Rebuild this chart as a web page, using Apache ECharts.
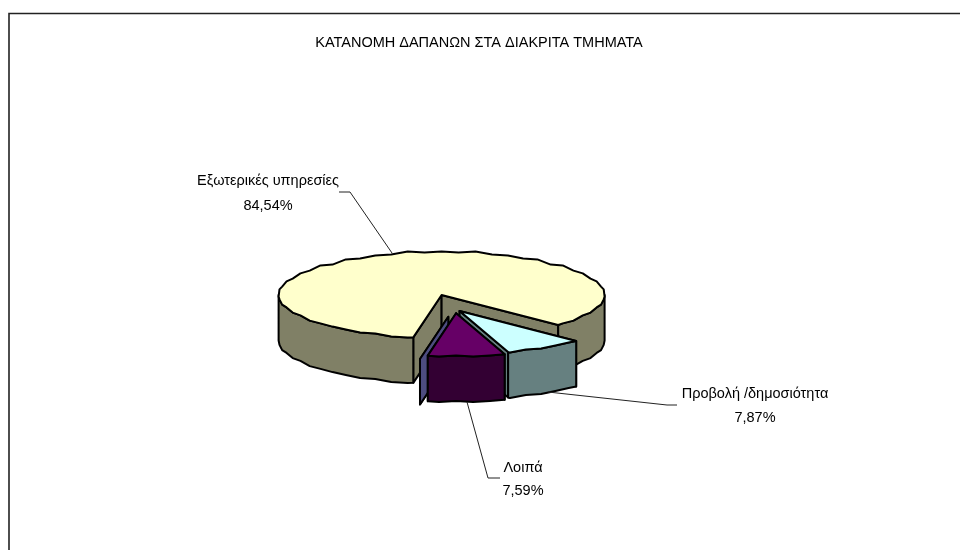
<!DOCTYPE html>
<html lang="el">
<head>
    <meta charset="utf-8"/>
    <title>ECharts</title>
    <script src="https://cdn.jsdelivr.net/npm/echarts@6/dist/echarts.min.js"></script>
    <style>
        html, body { margin: 0; padding: 0; background: #fff; }
        #main { width: 960px; height: 550px; }
    </style>
</head>
<body>
<div id="main"></div>
<script type="text/javascript">
    // data (the last slice is empty, only its cut wall shows)
    var chartTitle = 'ΚΑΤΑΝΟΜΗ ΔΑΠΑΝΩΝ ΣΤΑ ΔΙΑΚΡΙΤΑ ΤΜΗΜΑΤΑ';
    var categories = ['Εξωτερικές υπηρεσίες', 'Προβολή /δημοσιότητα', 'Λοιπά', ''];
    var shares = [84.54, 7.87, 7.59, 0];

    // look of the fake 3D pie
    var topColors = ['#ffffcc', '#ccffff', '#660066', '#9999ff'];
    var wallColors = ['#808066', '#668080', '#330033', '#4d4d80'];
    var pie = {cx: 441.6, cy: 295, rx: 163, ry: 43, depth: 45.5, startAngle: 100};
    var explode = [[0, 0], [18, 16], [14.5, 18.3], [6.7, 21.7]];
    var drawOrder = [0, 1, 3, 2];
    var labelFont = '14.5px "Liberation Sans", Arial, sans-serif';
    var labelLayout = [
        {x: 268, y: 181, gap: 25, leader: [[339, 192], [350, 192], [392, 253]]},
        {x: 755, y: 394, gap: 24, leader: [[677, 405], [667, 405], [548, 392]]},
        {x: 523, y: 468, gap: 23, leader: [[500, 478], [488, 478], [467, 402]]}
    ];

    // cumulative slice angles, clockwise on screen
    var spans = [];
    var angle = pie.startAngle;
    for (var i = 0; i < shares.length; i++) {
        spans[i] = [angle, angle + shares[i] * 3.6];
        angle = spans[i][1];
    }

    function rimPoint(deg, dx, dy) {
        var rad = deg * Math.PI / 180;
        return [pie.cx + dx + pie.rx * Math.cos(rad), pie.cy + dy + pie.ry * Math.sin(rad)];
    }

    // the rim of the original is coarse, so sample it in rough steps
    function rim(from, to, dx, dy) {
        var pts = [];
        var step = 6;
        var first = Math.ceil(from / step) * step;
        pts.push(rimPoint(from, dx, dy));
        for (var a = first; a < to; a += step) {
            if (a > from) {
                var p = rimPoint(a, dx, dy);
                p[1] = Math.round(p[1] / 2) * 2 + (a % 12 === 0 ? 0.6 : -0.6);
                pts.push(p);
            }
        }
        pts.push(rimPoint(to, dx, dy));
        return pts;
    }

    function face(points, fill) {
        return {
            type: 'polygon',
            shape: {points: points},
            style: {fill: fill, stroke: '#000', lineWidth: 2, lineJoin: 'round'}
        };
    }

    function cutWall(deg, dx, dy, fill) {
        var apex = [pie.cx + dx, pie.cy + dy];
        var edge = rimPoint(deg, dx, dy);
        return face([apex, edge, [edge[0], edge[1] + pie.depth], [apex[0], apex[1] + pie.depth]], fill);
    }

    function outerWall(from, to, dx, dy, fill) {
        var upper = rim(from, to, dx, dy);
        var lower = upper.map(function (p) { return [p[0], p[1] + pie.depth]; }).reverse();
        return face(upper.concat(lower), fill);
    }

    function renderSlice(params, api) {
        var idx = api.value(1);
        var from = spans[idx][0];
        var to = spans[idx][1];
        var dx = explode[idx][0];
        var dy = explode[idx][1];
        var wall = wallColors[idx];
        var children = [cutWall(from, dx, dy, wall), cutWall(to, dx, dy, wall)];

        // only the front half of the rim can be seen (0..180 and 360..540)
        var fronts = [[0, 180], [360, 540]];
        fronts.forEach(function (f) {
            var a = Math.max(from, f[0]);
            var b = Math.min(to, f[1]);
            if (b > a) children.push(outerWall(a, b, dx, dy, wall));
        });

        if (to > from) {
            children.push(face([[pie.cx + dx, pie.cy + dy]].concat(rim(from, to, dx, dy)), topColors[idx]));
        }

        var lab = labelLayout[idx];
        if (lab) {
            children.push({
                type: 'polyline',
                shape: {points: lab.leader},
                style: {fill: 'none', stroke: '#222', lineWidth: 1}
            });
            children.push({
                type: 'text',
                style: {text: categories[idx], x: lab.x, y: lab.y, align: 'center', verticalAlign: 'middle', font: labelFont, fill: '#000'}
            });
            children.push({
                type: 'text',
                style: {text: shares[idx].toFixed(2).replace('.', ',') + '%', x: lab.x, y: lab.y + lab.gap, align: 'center', verticalAlign: 'middle', font: labelFont, fill: '#000'}
            });
        }
        return {type: 'group', children: children};
    }

    var myChart = echarts.init(document.getElementById('main'), null, {renderer: 'canvas'});

    myChart.setOption({
        animation: false,
        backgroundColor: '#fff',
        title: {
            text: chartTitle,
            left: 474,
            top: 30,
            textAlign: 'center',
            textStyle: {fontFamily: '"Liberation Sans", Arial, sans-serif', fontSize: 14.5, fontWeight: 'normal', color: '#000'}
        },
        graphic: [{
            type: 'polyline',
            shape: {points: [[9, 550], [9, 13.5], [960, 13.5]]},
            style: {fill: 'none', stroke: '#222', lineWidth: 1.6}
        }],
        series: [{
            type: 'custom',
            coordinateSystem: 'none',
            renderItem: renderSlice,
            silent: true,
            data: drawOrder.map(function (idx) { return [shares[idx], idx]; })
        }]
    });
</script>
</body>
</html>
